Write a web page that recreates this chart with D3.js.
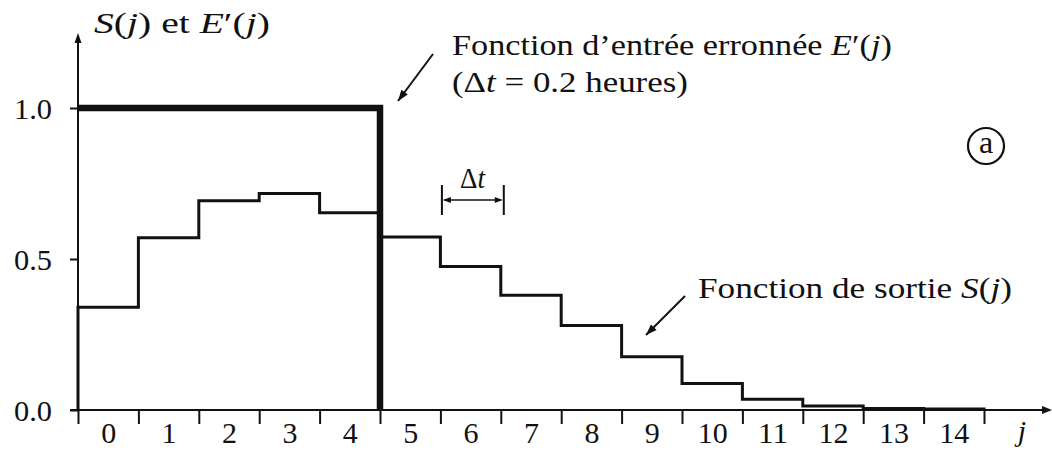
<!DOCTYPE html>
<html>
<head>
<meta charset="utf-8">
<script src="https://cdn.jsdelivr.net/npm/d3@7"></script>
<style>
  html, body { margin: 0; padding: 0; background: #fff; }
  svg { display: block; }
  text { font-family: "Liberation Serif", "DejaVu Serif", serif; fill: #111; }
</style>
</head>
<body>
<svg id="chart" width="1052" height="451"></svg>
<script>
// Intervals j (each Δt = 0.2 h wide)
const tickLabels = ["0","1","2","3","4","5","6","7","8","9","10","11","12","13","14"];
// Output function S(j)
const sortie = [0.34, 0.57, 0.693, 0.717, 0.653, 0.573, 0.475, 0.38, 0.28, 0.176, 0.088, 0.036, 0.013, 0.005, 0.003];
// Erroneous input function E'(j)
const entree = [1, 1, 1, 1, 1, 0, 0, 0, 0, 0, 0, 0, 0, 0, 0];
// Vertical axis ticks
const yTicks = [0, 0.5, 1.0];

const svg = d3.select("#chart");
const ink = "#111";
const serif = '"Liberation Serif", "DejaVu Serif", serif';

const x = d3.scaleLinear().domain([0, tickLabels.length]).range([78, 984]);
const y = d3.scaleLinear().domain([0, 1]).range([410, 108]);

function arrowHead(g, tipX, tipY, fromX, fromY, len, half) {
  const a = Math.atan2(tipY - fromY, tipX - fromX);
  const bx = tipX - len * Math.cos(a), by = tipY - len * Math.sin(a);
  const px = -Math.sin(a) * half, py = Math.cos(a) * half;
  g.append("path")
    .attr("d", `M${tipX},${tipY}L${bx + px},${by + py}L${bx - px},${by - py}Z`)
    .attr("fill", ink);
}

function arrow(g, x1, y1, x2, y2, w, len, half) {
  g.append("line").attr("x1", x1).attr("y1", y1).attr("x2", x2).attr("y2", y2)
    .attr("stroke", ink).attr("stroke-width", w);
  arrowHead(g, x2, y2, x1, y1, len, half);
}

// Adds a text made of [string, italic] runs, then stretches it to a given width
function richText(parent, parts, x0, y0, width, size, anchor) {
  const g = parent.append("g");
  const t = g.append("text").attr("font-size", size).style("font-family", serif);
  parts.forEach(([s, it]) => {
    t.append("tspan").text(s).attr("font-style", it ? "italic" : "normal");
  });
  const w = t.node().getComputedTextLength();
  const k = width ? width / w : 1;
  let dx = 0;
  if (anchor === "middle") dx = -w * k / 2;
  g.attr("transform", `translate(${x0 + dx},${y0}) scale(${k},1)`);
  return g;
}

// Fits a plain label into a given width around its anchor
function fitWidth(sel, width) {
  sel.each(function () {
    const w = this.getComputedTextLength();
    const k = width(this.textContent) / w;
    const t = d3.select(this);
    const tx = +t.attr("x") || 0;
    t.attr("transform", `translate(${tx * (1 - k)},0) scale(${k},1)`);
  });
}

// ----- axes -----
const axes = svg.append("g");
axes.append("line").attr("x1", 70).attr("x2", 1044).attr("y1", y(0)).attr("y2", y(0))
  .attr("stroke", ink).attr("stroke-width", 2);
arrowHead(axes, 1052, y(0), 1000, y(0), 10, 4);
axes.append("line").attr("x1", x(0)).attr("x2", x(0)).attr("y1", y(0)).attr("y2", 41)
  .attr("stroke", ink).attr("stroke-width", 2);
arrowHead(axes, x(0), 33, x(0), 100, 10, 3.5);

// bin boundaries on the j axis
const xBounds = svg.append("g").attr("transform", `translate(0,${y(0)})`)
  .call(d3.axisBottom(x).tickValues(d3.range(tickLabels.length + 1))
    .tickFormat("").tickSizeInner(14).tickSizeOuter(0));
xBounds.select(".domain").remove();
xBounds.selectAll(".tick line").attr("stroke", ink).attr("stroke-width", 2);

// bin labels centred in each interval
const xLab = svg.append("g").attr("transform", `translate(0,${y(0)})`)
  .call(d3.axisBottom(x).tickValues(tickLabels.map((d, i) => i + 0.5))
    .tickFormat((d, i) => tickLabels[i]).tickSize(0).tickPadding(10));
xLab.select(".domain").remove();
xLab.selectAll(".tick text").attr("font-size", 30)
  .style("font-family", serif).attr("fill", ink)
  .attr("dy", null).attr("y", 33);
fitWidth(xLab.selectAll(".tick text"), s => s.length * 15);

// vertical axis
const yAx = svg.append("g").attr("transform", `translate(${x(0)},0)`)
  .call(d3.axisLeft(y).tickValues(yTicks).tickFormat(d3.format(".1f"))
    .tickSizeInner(8).tickSizeOuter(0).tickPadding(18));
yAx.select(".domain").remove();
yAx.selectAll(".tick line").attr("stroke", ink).attr("stroke-width", 2);
yAx.selectAll(".tick text").attr("font-size", 30)
  .style("font-family", serif).attr("fill", ink).attr("dy", "0.35em");
fitWidth(yAx.selectAll(".tick text"), () => 38);

// ----- step functions -----
const step = d3.line().x(d => x(d[0])).y(d => y(d[1])).curve(d3.curveStepAfter);

const sPts = [[0, 0]].concat(sortie.map((v, i) => [i, v]), [[sortie.length, 0]]);
svg.append("path").attr("d", step(sPts)).attr("fill", "none")
  .attr("stroke", ink).attr("stroke-width", 3).attr("stroke-linejoin", "miter");

const nE = entree.findIndex(v => v === 0);
const ePts = entree.slice(0, nE).map((v, i) => [i, v]).concat([[nE, 0]]);
svg.append("path").attr("d", step(ePts)).attr("fill", "none")
  .attr("stroke", ink).attr("stroke-width", 6.5).attr("stroke-linejoin", "miter");

// ----- annotations -----
const ann = svg.append("g");

richText(ann, [["S", true], ["(", false], ["j", true], [") et ", false], ["E", true], ["′(", false], ["j", true], [")", false]],
  94, 33, 176, 29);

richText(ann, [["Fonction d’entrée erronnée ", false], ["E", true], ["′(", false], ["j", true], [")", false]],
  452, 55, 440, 30);
richText(ann, [["(Δ", false], ["t", true], [" = 0.2 heures)", false]],
  452, 92, 236, 30);
arrow(ann, 433, 54, 398, 101, 2, 11, 4);

richText(ann, [["Fonction de sortie ", false], ["S", true], ["(", false], ["j", true], [")", false]],
  698, 298, 314, 30);
arrow(ann, 685, 296, 646, 335, 2, 11, 4);

// Δt width marker over interval 6
const dm = svg.append("g");
[x(6) + 1.5, x(7) + 3].forEach(xx => {
  dm.append("line").attr("x1", xx).attr("x2", xx).attr("y1", 185).attr("y2", 215)
    .attr("stroke", ink).attr("stroke-width", 2);
});
dm.append("line").attr("x1", x(6) + 4).attr("x2", x(7)).attr("y1", 200).attr("y2", 200)
  .attr("stroke", ink).attr("stroke-width", 1.5);
arrowHead(dm, x(6) + 2.5, 200, x(7), 200, 8, 3);
arrowHead(dm, x(7) + 2, 200, x(6), 200, 8, 3);
richText(dm, [["Δ", false], ["t", true]], (x(6) + x(7)) / 2 + 2, 188, 25, 29, "middle");

// panel marker
svg.append("circle").attr("cx", 986).attr("cy", 146).attr("r", 18)
  .attr("fill", "none").attr("stroke", ink).attr("stroke-width", 2.2);
svg.append("text").attr("x", 986).attr("y", 153).attr("text-anchor", "middle")
  .style("font-family", serif).attr("font-size", 32).text("a");

// axis name
svg.append("text").attr("x", 1022).attr("y", 441).attr("text-anchor", "middle")
  .style("font-family", serif).attr("font-size", 30).attr("font-style", "italic").text("j");
</script>
</body>
</html>
